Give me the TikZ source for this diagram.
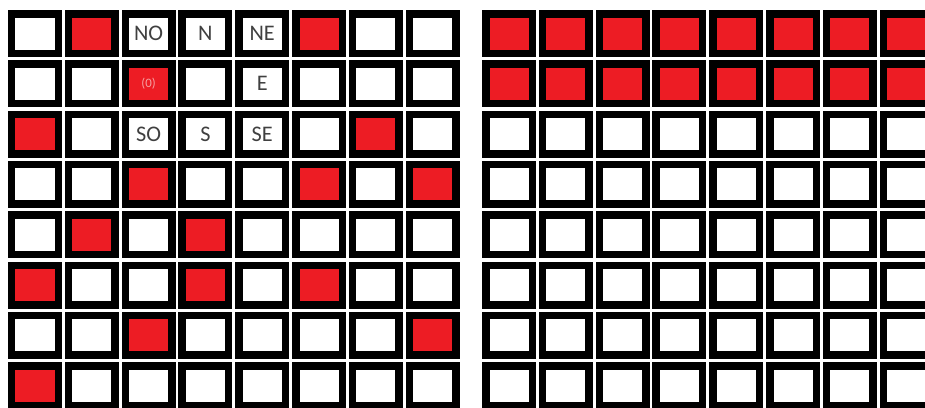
\documentclass[tikz,border=0pt]{standalone}
\usepackage{fontspec}
\setmainfont{Carlito}

\definecolor{cellred}{RGB}{237,28,36}
\definecolor{labelgray}{RGB}{64,64,64}
\definecolor{markpink}{RGB}{245,160,160}

\tikzset{
    cell/.style={draw=black, line width=0.225cm, minimum width=1.395cm,
        minimum height=1.185cm, inner sep=0pt},
    cell0/.style={cell, fill=white},
    cell1/.style={cell, fill=cellred},
    lbl/.style={text=labelgray, inner sep=0pt, font=\fontsize{19}{19}\selectfont}
}

\begin{document}
\begin{tikzpicture}[x=0.03cm, y=-0.03cm]
            \useasboundingbox (0,0) rectangle (925,407);
            \clip (0,0) rectangle (925,407);

            % left board
            \foreach \pattern [count=\r from 0] in {
                {0,1,0,0,0,1,0,0},
                {0,0,1,0,0,0,0,0},
                {1,0,0,0,0,0,1,0},
                {0,0,1,0,0,1,0,1},
                {0,1,0,1,0,0,0,0},
                {1,0,0,1,0,1,0,0},
                {0,0,1,0,0,0,0,1},
                {1,0,0,0,0,0,0,0}}{
                \foreach \c [count=\i from 0] in \pattern {
                    \node[cell\c] (L-\i-\r) at ({35+56.8*\i},{33.5+50.3*\r}) {};
                }
            }

            % right board
            \foreach \r in {0,...,7}{
                \foreach \i in {0,...,7}{
                    \pgfmathtruncatemacro{\c}{\r<2 ? 1 : 0}
                    \node[cell\c] (R-\i-\r) at ({509+56.8*\i},{33.5+50.3*\r}) {};
                }
            }

            \foreach \name/\txt in {2-0/NO, 3-0/N, 4-0/NE, 4-1/E, 2-2/SO, 3-2/S, 4-2/SE}{
                \node[lbl] (T-\name) at (L-\name) {\txt};
            }
            \node[lbl, text=markpink, font=\fontsize{11}{11}\selectfont] (T-2-1) at (L-2-1) {(0)};
        \end{tikzpicture}
\end{document}
